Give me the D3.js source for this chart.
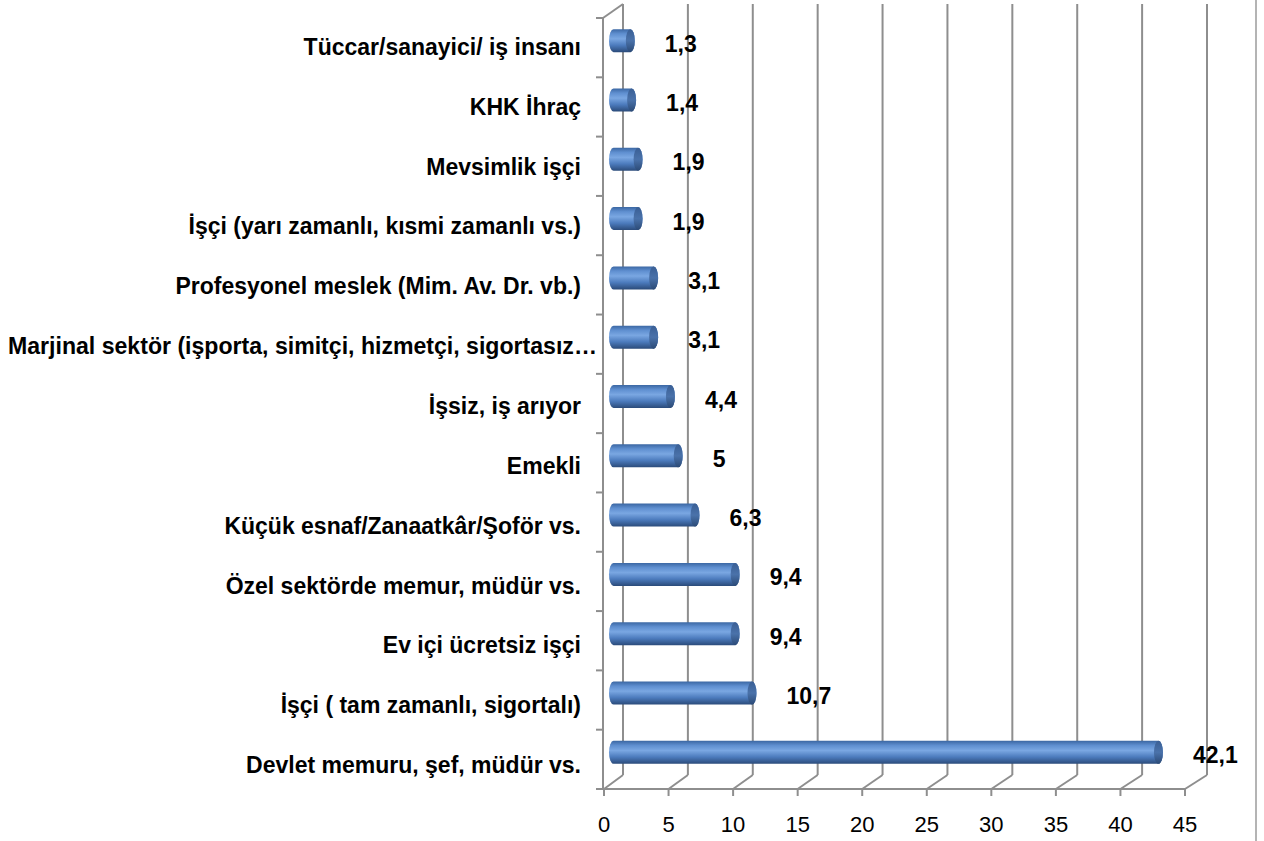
<!DOCTYPE html>
<html>
<head>
<meta charset="utf-8">
<script src="https://cdn.jsdelivr.net/npm/d3@7"></script>
<style>
  body { margin: 0; background: #fff; }
  svg { display: block; font-family: "Liberation Sans", Arial, sans-serif; }
</style>
</head>
<body>
<svg id="chart" width="1264" height="841"></svg>
<script>
// categories, top to bottom as drawn
var categories = [
  "Tüccar/sanayici/ iş insanı",
  "KHK İhraç",
  "Mevsimlik işçi",
  "İşçi (yarı zamanlı, kısmi zamanlı vs.)",
  "Profesyonel meslek (Mim. Av. Dr. vb.)",
  "Marjinal sektör (işporta, simitçi, hizmetçi, sigortasız…",
  "İşsiz, iş arıyor",
  "Emekli",
  "Küçük esnaf/Zanaatkâr/Şoför vs.",
  "Özel sektörde memur, müdür vs.",
  "Ev içi ücretsiz işçi",
  "İşçi ( tam zamanlı, sigortalı)",
  "Devlet memuru, şef, müdür vs."
];
var values = [1.3, 1.4, 1.9, 1.9, 3.1, 3.1, 4.4, 5, 6.3, 9.4, 9.4, 10.7, 42.1];
var valueLabels = ["1,3", "1,4", "1,9", "1,9", "3,1", "3,1", "4,4", "5", "6,3", "9,4", "9,4", "10,7", "42,1"];
var ticks = [0, 5, 10, 15, 20, 25, 30, 35, 40, 45];

var svg = d3.select("#chart");

// 3d box: front plane and back plane
var depthX = 19, depthY = -14;
var frontTop = 18, frontBottom = 789;

var xFront = d3.scaleLinear().domain([0, 45]).range([604, 1185]);
var xBack = d3.scaleLinear().domain([0, 45]).range([623, 1207]);
var xMid = d3.scaleLinear().domain([0, 45]).range([613.5, 1196]);

var y = d3.scaleBand().domain(categories).range([frontTop, frontBottom]);
// the category labels drift a little against the wall ticks
var yLabel = d3.scaleBand().domain(categories).range([17, 795]);

var gridColor = "#8e8e8e";

// defs: cylinder gradients
var defs = svg.append("defs");
var body = defs.append("linearGradient").attr("id", "barBody")
  .attr("x1", 0).attr("y1", 0).attr("x2", 0).attr("y2", 1);
[["0%", "#3b67a3"], ["20%", "#5f8fd0"], ["42%", "#7aa7e2"], ["70%", "#4c7bbd"], ["100%", "#2b4b7a"]]
  .forEach(function (s) { body.append("stop").attr("offset", s[0]).attr("stop-color", s[1]); });
var cap = defs.append("linearGradient").attr("id", "barCap")
  .attr("x1", 0).attr("y1", 0).attr("x2", 0).attr("y2", 1);
[["0%", "#3a5f95"], ["50%", "#4a72aa"], ["100%", "#2b4a76"]]
  .forEach(function (s) { cap.append("stop").attr("offset", s[0]).attr("stop-color", s[1]); });

var grid = svg.append("g").attr("stroke", gridColor).attr("stroke-width", 2).attr("fill", "none");

// back wall vertical gridlines
grid.selectAll("line.back")
  .data(ticks)
  .enter().append("line")
  .attr("x1", function (d) { return xBack(d); })
  .attr("x2", function (d) { return xBack(d); })
  .attr("y1", frontTop + depthY)
  .attr("y2", frontBottom + depthY);

// floor diagonals
grid.selectAll("line.floor")
  .data(ticks)
  .enter().append("line")
  .attr("x1", function (d) { return xFront(d); })
  .attr("y1", frontBottom)
  .attr("x2", function (d) { return xBack(d); })
  .attr("y2", frontBottom + depthY);

// floor front edge + ticks
grid.append("line")
  .attr("x1", xFront(0)).attr("x2", xFront(45))
  .attr("y1", frontBottom).attr("y2", frontBottom);
grid.selectAll("line.xtick")
  .data(ticks)
  .enter().append("line")
  .attr("x1", function (d) { return xFront(d); })
  .attr("x2", function (d) { return xFront(d); })
  .attr("y1", frontBottom).attr("y2", frontBottom + 7);

// left wall
grid.append("line")
  .attr("x1", 603).attr("x2", 603)
  .attr("y1", frontTop).attr("y2", frontBottom);
grid.append("line")
  .attr("x1", 603).attr("y1", frontTop)
  .attr("x2", 603 + depthX + 1).attr("y2", frontTop + depthY);
grid.selectAll("line.ytick")
  .data(categories.concat([null]))
  .enter().append("line")
  .attr("x1", 596).attr("x2", 603)
  .attr("y1", function (d) { return d === null ? frontBottom : y(d); })
  .attr("y2", function (d) { return d === null ? frontBottom : y(d); });

// outer border on the right
svg.append("line")
  .attr("x1", 1256).attr("x2", 1256)
  .attr("y1", 0).attr("y2", 841)
  .attr("stroke", "#b4b4b4").attr("stroke-width", 2);

// cylinders
var barH = 23, rx = 4.5;
var bars = svg.append("g").selectAll("g")
  .data(categories)
  .enter().append("g");

function barY(d) { return y(d) + y.bandwidth() / 2 + depthY / 2; }

bars.append("path")
  .attr("fill", "url(#barBody)")
  .attr("d", function (d, i) {
    var cy = barY(d);
    var x0 = xMid(0), x1 = xMid(values[i]);
    var t = cy - barH / 2, b = cy + barH / 2, r = barH / 2;
    return "M" + x0 + "," + t + "L" + x1 + "," + t +
      "A" + rx + "," + r + " 0 0 1 " + x1 + "," + b +
      "L" + x0 + "," + b +
      "A" + rx + "," + r + " 0 0 1 " + x0 + "," + t + "Z";
  });

bars.append("ellipse")
  .attr("fill", "url(#barCap)")
  .attr("cx", function (d, i) { return xMid(values[i]); })
  .attr("cy", barY)
  .attr("rx", rx)
  .attr("ry", barH / 2);

// value labels
bars.append("text")
  .attr("x", function (d, i) { return xMid(values[i]) + rx + 30; })
  .attr("y", function (d) { return barY(d) + 11; })
  .attr("font-size", 23)
  .attr("font-weight", "bold")
  .attr("fill", "#000")
  .text(function (d, i) { return valueLabels[i]; });

// category labels
var labelRight = 581, labelLeft = 8;
svg.append("g").selectAll("text")
  .data(categories)
  .enter().append("text")
  .attr("x", labelRight)
  .attr("y", function (d) { return yLabel(d) + yLabel.bandwidth() / 2 + 8; })
  .attr("text-anchor", "end")
  .attr("font-size", 23)
  .attr("font-weight", "bold")
  .attr("fill", "#000")
  .text(function (d) { return d; })
  .each(function () {
    // the long truncated label runs a bit past the others, squeeze it into place
    var w = this.getComputedTextLength();
    if (w > labelRight - labelLeft) {
      d3.select(this)
        .attr("text-anchor", "start")
        .attr("x", labelLeft)
        .attr("textLength", 589)
        .attr("lengthAdjust", "spacingAndGlyphs");
    }
  });

// x tick labels
svg.append("g").selectAll("text")
  .data(ticks)
  .enter().append("text")
  .attr("x", function (d) { return xFront(d); })
  .attr("y", 832)
  .attr("text-anchor", "middle")
  .attr("font-size", 22)
  .attr("fill", "#000")
  .text(function (d) { return d; });
</script>
</body>
</html>
